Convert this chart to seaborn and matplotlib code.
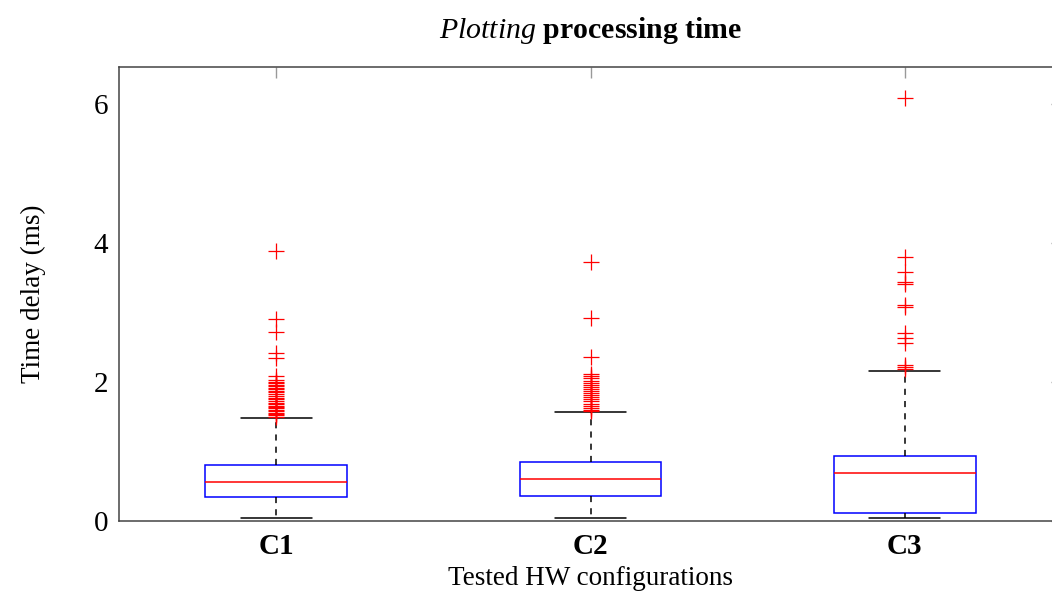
import pandas as pd
import matplotlib.pyplot as plt
import seaborn as sns

sns.set_theme(style="white")
plt.rcParams["font.family"] = ["Liberation Serif", "DejaVu Serif"]
plt.rcParams["mathtext.fontset"] = "custom"
plt.rcParams["mathtext.rm"] = "Liberation Serif"
plt.rcParams["mathtext.it"] = "Liberation Serif:italic"
plt.rcParams["mathtext.bf"] = "Liberation Serif:bold"
plt.rcParams["text.color"] = "black"
plt.rcParams["axes.labelcolor"] = "black"
plt.rcParams["xtick.labelcolor"] = "black"
plt.rcParams["ytick.labelcolor"] = "black"

# tested configurations
configs = ["C1", "C2", "C3"]

# box statistics (ms): low whisker, q1, median, q3, high whisker
c1_box = [0.04, 0.35, 0.56, 0.80, 1.48]
c2_box = [0.04, 0.36, 0.60, 0.845, 1.57]
c3_box = [0.04, 0.12, 0.695, 0.935, 2.16]

# outliers (ms)
c1_out = [3.89, 2.90, 2.72, 2.41, 2.35, 2.08, 2.03, 2.00, 1.98, 1.96, 1.94,
          1.92, 1.90, 1.87, 1.85, 1.82, 1.80, 1.77, 1.75, 1.72, 1.70, 1.68,
          1.66, 1.64, 1.62, 1.60, 1.58, 1.56, 1.54, 1.52, 1.50]
c2_out = [3.72, 2.92, 2.36, 2.12, 2.08, 2.05, 2.02, 1.99, 1.96, 1.93, 1.90,
          1.87, 1.84, 1.81, 1.78, 1.75, 1.72, 1.69, 1.66, 1.63, 1.60, 1.58]
c3_out = [6.08, 3.79, 3.58, 3.44, 3.41, 3.11, 3.08, 2.70, 2.63, 2.56, 2.245,
          2.21, 2.18]

box_df = pd.DataFrame({
    "config": [c for c, b in zip(configs, [c1_box, c2_box, c3_box]) for _ in b],
    "time": c1_box + c2_box + c3_box,
})
out_df = pd.DataFrame({
    "config": ["C1"] * len(c1_out) + ["C2"] * len(c2_out) + ["C3"] * len(c3_out),
    "time": c1_out + c2_out + c3_out,
})

fig = plt.figure(figsize=(10.52, 5.94), dpi=100)
ax = fig.add_axes([119 / 1052, 1 - 521 / 594, (1062 - 119) / 1052, (521 - 67) / 594])

sns.boxplot(data=box_df, x="config", y="time", order=configs, whis=(0, 100),
            width=0.45, showfliers=False, linewidth=1.1, ax=ax,
            boxprops=dict(facecolor="white", edgecolor="blue"),
            medianprops=dict(color="red"),
            whiskerprops=dict(color="black", linestyle=(0, (4, 4))),
            capprops=dict(color="black"))
sns.stripplot(data=out_df, x="config", y="time", order=configs, jitter=False,
              marker="+", color="red", size=11, linewidth=0.9, ax=ax)

ax.set_ylim(0, 6.53)
ax.set_xlim(-0.5, 2.5)
ax.set_yticks([0, 2, 4, 6])
ax.set_xticks(range(len(configs)))
ax.set_xticklabels(configs, fontweight="bold")
ax.tick_params(direction="in", length=8, width=1, color="#999999",
               labelsize=21, top=True, right=True)
ax.tick_params(axis="x", pad=9)
ax.tick_params(axis="y", pad=8)
for s in ["left", "top", "bottom"]:
    ax.spines[s].set_color("#444444")
    ax.spines[s].set_linewidth(1.1)
ax.spines["right"].set_visible(False)

ax.set_xlabel("Tested HW configurations", fontsize=19.5, labelpad=4)
ax.set_ylabel("Time delay (ms)", fontsize=19.5, labelpad=34)
ax.set_title(r"$\mathit{Plotting}$ $\mathbf{processing\ time}$", fontsize=21.5, pad=21)

fig.savefig("out.png", dpi=100)
